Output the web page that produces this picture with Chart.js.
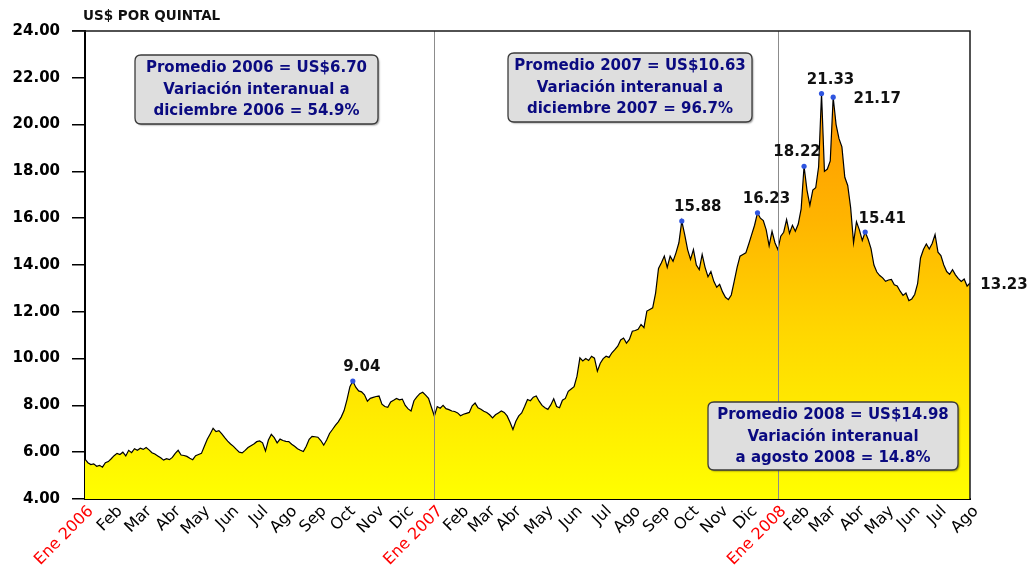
<!DOCTYPE html>
<html>
<head>
<meta charset="utf-8">
<script src="https://cdn.jsdelivr.net/npm/chart.js@4.4.1/dist/chart.umd.min.js"></script>
<style>
html,body{margin:0;padding:0;background:#ffffff;}
#wrap{width:1027px;height:583px;position:relative;}
</style>
</head>
<body>
<div id="wrap"><canvas id="c" width="1027" height="583"></canvas></div>
<script>
// ---------------- DATA ----------------
const monthLabels = ['Ene 2006','Feb','Mar','Abr','May','Jun','Jul','Ago','Sep','Oct','Nov','Dic',
  'Ene 2007','Feb','Mar','Abr','May','Jun','Jul','Ago','Sep','Oct','Nov','Dic',
  'Ene 2008','Feb','Mar','Abr','May','Jun','Jul','Ago'];
// number of sampled quotes in each month
const pointsPerMonth = [10,10,10,10,10,10,10,10,10,10,10,10,
  9,9,9,11,10,10,10,10,10,10,10,10,
  8,9,10,10,9,9,11,1];

const prices2006 = [
  5.70,5.55,5.47,5.50,5.40,5.44,5.36,5.55,5.60,5.72,
  5.85,5.95,5.90,6.00,5.84,6.08,5.98,6.15,6.08,6.17,
  6.12,6.20,6.10,5.98,5.92,5.84,5.76,5.66,5.72,5.68,
  5.78,5.95,6.08,5.88,5.86,5.82,5.74,5.68,5.85,5.90,
  5.95,6.25,6.55,6.78,7.02,6.88,6.92,6.78,6.62,6.47,
  6.35,6.25,6.12,6.00,5.97,6.08,6.20,6.28,6.35,6.45,
  6.48,6.40,6.05,6.52,6.76,6.62,6.40,6.56,6.50,6.46,
  6.45,6.34,6.25,6.15,6.08,6.03,6.25,6.55,6.68,6.66,
  6.64,6.50,6.30,6.52,6.80,6.97,7.15,7.30,7.50,7.78,
  8.25,8.80,9.04,8.78,8.62,8.58,8.45,8.18,8.30,8.34,
  8.38,8.40,8.05,7.95,7.92,8.15,8.22,8.30,8.24,8.27,
  8.00,7.85,7.76,8.20,8.36,8.50,8.56,8.44,8.30,7.92
];
const prices2007 = [
  7.55,7.95,7.88,8.00,7.86,7.82,7.76,7.74,7.68,
  7.56,7.62,7.66,7.70,7.98,8.10,7.90,7.84,7.75,
  7.70,7.60,7.47,7.60,7.68,7.76,7.70,7.55,7.28,
  6.97,7.32,7.55,7.68,7.95,8.25,8.20,8.35,8.40,8.18,8.00,
  7.90,7.83,8.02,8.28,7.95,7.90,8.22,8.30,8.60,8.70,
  8.80,9.25,10.03,9.90,10.00,9.92,10.10,10.02,9.46,9.80,
  10.00,10.10,10.05,10.25,10.38,10.53,10.80,10.88,10.66,10.82,
  11.17,11.20,11.25,11.46,11.32,12.03,12.10,12.17,12.80,13.85,
  14.10,14.38,13.90,14.38,14.16,14.52,14.95,15.88,15.30,14.66,
  14.24,14.66,14.00,13.80,14.45,13.90,13.50,13.72,13.30,13.05,
  13.17,12.85,12.62,12.52,12.72,13.30,13.90,14.38,14.45,14.52,
  14.90,15.30,15.70,16.23,16.00,15.90,15.50,14.82,15.44,14.95
];
const prices2008 = [
  14.66,15.23,15.40,15.94,15.35,15.70,15.44,15.75,
  16.40,18.22,17.20,16.55,17.20,17.30,18.20,21.33,18.00,
  18.10,18.45,21.17,20.00,19.40,19.05,17.75,17.40,16.45,14.95,
  15.85,15.50,15.05,15.41,15.10,14.70,14.00,13.70,13.55,13.45,
  13.30,13.36,13.38,13.15,13.10,12.88,12.70,12.80,12.48,
  12.55,12.74,13.20,14.30,14.66,14.90,14.68,14.92,15.30,
  14.55,14.40,14.00,13.72,13.60,13.80,13.58,13.42,13.30,13.40,13.10,
  13.23
];
const yTicks = [4,6,8,10,12,14,16,18,20,22,24];
const markedPoints = [92,205,231,247,253,257,268];   // indices of highlighted quotes
const endPoint = 304;
const notes = [
  ['Promedio 2006 = US$6.70','Variación interanual a','diciembre 2006 = 54.9%'],
  ['Promedio 2007 = US$10.63','Variación interanual a','diciembre 2007 = 96.7%'],
  ['Promedio 2008 = US$14.98','Variación interanual','a agosto 2008 = 14.8%']
];
const unitTitle = 'US$ POR QUINTAL';

// ---------------- BUILD ----------------
const prices = prices2006.concat(prices2007, prices2008);
const pointLabels = [];
const yearStarts = [];
monthLabels.forEach((m, k) => {
  if (/\d{4}/.test(m) && pointLabels.length > 0) yearStarts.push(pointLabels.length);
  for (let j = 0; j < pointsPerMonth[k]; j++) pointLabels.push(j === 0 ? m : '');
});

const FONT = "'DejaVu Sans', 'Liberation Sans', Arial, sans-serif";

const labelOffsets = {92:[9,-14],205:[16,-14],231:[9,-14],247:[-7,-14],253:[9,-13],257:[44,2],268:[17,-13],304:[34,2]};
const noteBoxes = [[135,55,243,69],[508,53,244,69],[708,402,250,68]];

const bgPlugin = {
  id: 'bg',
  beforeDraw(chart) {
    const ctx = chart.ctx;
    ctx.save();
    ctx.fillStyle = '#ffffff';
    ctx.fillRect(0, 0, chart.width, chart.height);
    ctx.restore();
  }
};

function roundRect(ctx, x, y, w, h, r) {
  ctx.beginPath();
  ctx.moveTo(x + r, y);
  ctx.lineTo(x + w - r, y);
  ctx.quadraticCurveTo(x + w, y, x + w, y + r);
  ctx.lineTo(x + w, y + h - r);
  ctx.quadraticCurveTo(x + w, y + h, x + w - r, y + h);
  ctx.lineTo(x + r, y + h);
  ctx.quadraticCurveTo(x, y + h, x, y + h - r);
  ctx.lineTo(x, y + r);
  ctx.quadraticCurveTo(x, y, x + r, y);
  ctx.closePath();
}

const overlay = {
  id: 'overlay',
  afterDatasetsDraw(chart) {
    const {ctx, chartArea: a, scales: {x}} = chart;
    ctx.save();
    // year separators
    ctx.strokeStyle = '#8c8c8c';
    ctx.lineWidth = 1;
    yearStarts.forEach(i => {
      const px = Math.round(x.getPixelForValue(i)) + 0.5;
      ctx.beginPath(); ctx.moveTo(px, a.top); ctx.lineTo(px, a.bottom); ctx.stroke();
    });
    // frame top and right
    ctx.strokeStyle = '#1a1a1a';
    ctx.lineWidth = 1.5;
    ctx.beginPath();
    ctx.moveTo(a.left - 13, a.top);
    ctx.lineTo(a.right, a.top);
    ctx.lineTo(a.right, a.bottom);
    ctx.stroke();

    // markers redrawn on top
    const meta = chart.getDatasetMeta(0);
    ctx.fillStyle = '#2F55E0';
    markedPoints.forEach(i => {
      const p = meta.data[i];
      ctx.beginPath(); ctx.arc(p.x, p.y, 2.6, 0, Math.PI * 2); ctx.fill();
    });

    // value labels
    ctx.font = 'bold 15px ' + FONT;
    ctx.fillStyle = '#111111';
    ctx.textAlign = 'center';
    ctx.textBaseline = 'middle';
    markedPoints.concat([endPoint]).forEach(i => {
      const p = meta.data[i];
      const o = labelOffsets[i];
      ctx.fillText(prices[i].toFixed(2), p.x + o[0], p.y + o[1]);
    });

    // note boxes
    notes.forEach((lines, k) => {
      const [bx, by, bw, bh] = noteBoxes[k];
      ctx.save();
      ctx.shadowColor = 'rgba(0,0,0,0.35)';
      ctx.shadowOffsetX = 1.5; ctx.shadowOffsetY = 1.5; ctx.shadowBlur = 1.5;
      roundRect(ctx, bx, by, bw, bh, 6);
      ctx.fillStyle = '#DEDEDE';
      ctx.fill();
      ctx.restore();
      roundRect(ctx, bx, by, bw, bh, 6);
      ctx.strokeStyle = '#3a3a3a';
      ctx.lineWidth = 1.3;
      ctx.stroke();
      ctx.fillStyle = '#0A0A80';
      ctx.font = 'bold 15px ' + FONT;
      lines.forEach((t, j) => ctx.fillText(t, bx + bw / 2, by + 13.5 + j * 21.3));
    });

    // unit title
    ctx.font = 'bold 13.5px ' + FONT;
    ctx.fillStyle = '#111111';
    ctx.textAlign = 'left';
    ctx.fillText(unitTitle, 83, 16);
    ctx.restore();
  }
};

const ctx = document.getElementById('c').getContext('2d');
new Chart(ctx, {
  type: 'line',
  data: {
    labels: pointLabels,
    datasets: [{
      data: prices,
      borderColor: '#000000',
      borderWidth: 1.2,
      tension: 0,
      fill: 'start',
      backgroundColor: (c) => {
        const a = c.chart.chartArea;
        if (!a) return '#FFD000';
        const g = c.chart.ctx.createLinearGradient(0, a.bottom, 0, a.top);
        g.addColorStop(0, '#FFFF00');
        g.addColorStop(0.35, '#FFD800');
        g.addColorStop(0.6, '#FFB400');
        g.addColorStop(0.85, '#FF9800');
        g.addColorStop(1, '#FF8C00');
        return g;
      },
      pointRadius: 0,
      pointHoverRadius: 0
    }]
  },
  options: {
    responsive: false,
    animation: false,
    events: [],
    layout: { padding: { top: 31, right: 57, left: 0, bottom: 0 } },
    plugins: { legend: { display: false }, tooltip: { enabled: false }, title: { display: false } },
    scales: {
      x: {
        type: 'category',
        grid: { display: false, drawTicks: false },
        border: { display: true, color: '#000000', width: 2 },
        ticks: {
          autoSkip: false,
          maxRotation: 45,
          minRotation: 45,
          padding: 3,
          labelOffset: 6,
          font: { family: FONT, size: 16 },
          color: (c) => /\d{4}/.test(pointLabels[c.index]) ? '#FF0000' : '#000000',
          callback: (v, i) => pointLabels[i]
        },
        afterFit: (s) => { s.height = 84; s.paddingLeft = 0; s.paddingRight = 0; }
      },
      y: {
        min: 4,
        max: 24,
        afterBuildTicks: (s) => { s.ticks = yTicks.map(v => ({ value: v })); },
        ticks: {
          callback: (v) => Number(v).toFixed(2),
          font: { family: FONT, size: 15, weight: 'bold' },
          color: '#000000',
          padding: 12
        },
        grid: { drawOnChartArea: false, drawTicks: true, tickLength: 13, color: '#000000', lineWidth: 1.5 },
        border: { display: true, color: '#000000', width: 2 },
        afterFit: (s) => { s.width = 85; s.paddingTop = 0; s.paddingBottom = 0; }
      }
    }
  },
  plugins: [bgPlugin, overlay]
});
</script>
</body>
</html>
